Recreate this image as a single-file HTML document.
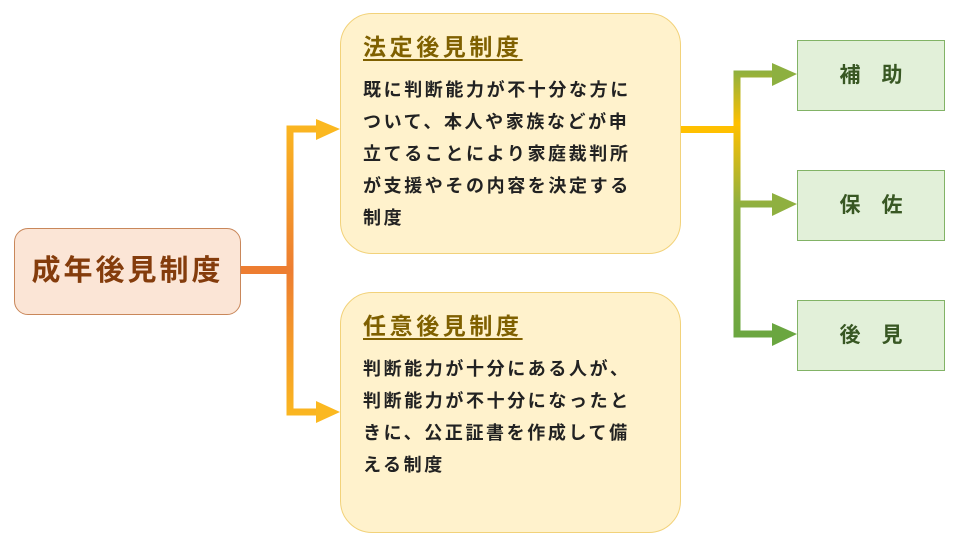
<!DOCTYPE html>
<html><head><meta charset="utf-8"><style>
body{margin:0;width:961px;height:546px;background:#fff;position:relative;overflow:hidden;font-family:"Liberation Sans","Noto Sans CJK JP",sans-serif;font-weight:bold}
.a{position:absolute;box-sizing:border-box}
.main{left:14px;top:228px;width:227px;height:87px;background:#fbe5d6;border:1px solid #c9875a;border-radius:14px;color:#843c0c;font-size:29px;letter-spacing:3px;line-height:85px;text-align:center}
.box{left:340px;width:341px;height:241px;background:#fff2cc;border:1px solid #f2d27a;border-radius:32px;padding:18px 0 0 22px}
.t{color:#7f6000;font-size:23px;letter-spacing:3.6px;text-decoration:underline;text-underline-offset:4px;text-decoration-thickness:2px;line-height:30px}
.b{color:#222;font-size:18px;letter-spacing:2.6px;line-height:32px;margin-top:12px;white-space:nowrap}
.g{left:797px;width:148px;height:71px;background:#e2f0d9;border:1px solid #82b366;color:#385723;font-size:21px;line-height:69px;text-align:center;letter-spacing:0}
</style></head><body>
<svg class="a" style="left:0;top:0" width="961" height="546">
<defs>
<linearGradient id="o" x1="0" y1="120" x2="0" y2="420" gradientUnits="userSpaceOnUse"><stop offset="0" stop-color="#fbb820"/><stop offset="0.5" stop-color="#ed7d31"/><stop offset="1" stop-color="#fbb820"/></linearGradient>
<linearGradient id="gr" x1="0" y1="70" x2="0" y2="340" gradientUnits="userSpaceOnUse"><stop offset="0" stop-color="#8db040"/><stop offset="0.2" stop-color="#ffc000"/><stop offset="0.5" stop-color="#8fb040"/><stop offset="1" stop-color="#6aa640"/></linearGradient>
</defs>
<rect x="240" y="266" width="50" height="8" fill="#ed7d31"/>
<path d="M320 129 H290 V412 H320" fill="none" stroke="url(#o)" stroke-width="7"/>
<polygon points="316,119 340,129 316,140" fill="#fbb820"/>
<polygon points="316,401 340,412 316,423" fill="#fbb820"/>
<rect x="681" y="126" width="58" height="7" fill="#ffc000"/>
<path d="M775 74 H737 V334 H775 M737 204 H775" fill="none" stroke="url(#gr)" stroke-width="7"/>
<polygon points="772,63 797,74 772,86" fill="#8db040"/>
<polygon points="772,193 797,204 772,216" fill="#8fb040"/>
<polygon points="772,323 797,334 772,346" fill="#6aa640"/>
</svg>
<div class="a main">成年後見制度</div>
<div class="a box" style="top:13px"><div class="t">法定後見制度</div><div class="b">既に判断能力が不十分な方に<br>ついて、本人や家族などが申<br>立てることにより家庭裁判所<br>が支援やその内容を決定する<br>制度</div></div>
<div class="a box" style="top:292px"><div class="t">任意後見制度</div><div class="b">判断能力が十分にある人が、<br>判断能力が不十分になったと<br>きに、公正証書を作成して備<br>える制度</div></div>
<div class="a g" style="top:40px">補　助</div>
<div class="a g" style="top:170px">保　佐</div>
<div class="a g" style="top:300px">後　見</div>
</body></html>
